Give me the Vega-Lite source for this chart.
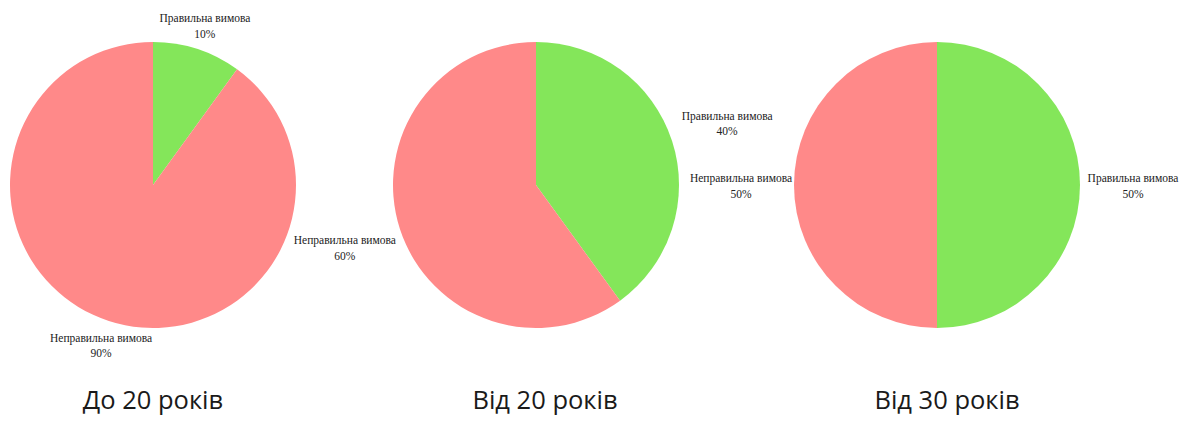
{
  "$schema": "https://vega.github.io/schema/vega-lite/v6.json",
  "background": "white",
  "padding": 0,
  "spacing": 0,
  "bounds": "flush",
  "config": {
    "view": {"stroke": null},
    "title": {"font": "Open Sans", "fontSize": 25.5, "fontWeight": "normal", "color": "#1a1a1a", "orient": "bottom", "offset": 19, "anchor": "middle"}
  },
  "datasets": {
    "d": [
      {"group": "До 20 років", "cat": "Правильна вимова", "value": 10},
      {"group": "До 20 років", "cat": "Неправильна вимова", "value": 90},
      {"group": "Від 20 років", "cat": "Правильна вимова", "value": 40},
      {"group": "Від 20 років", "cat": "Неправильна вимова", "value": 60},
      {"group": "Від 30 років", "cat": "Правильна вимова", "value": 50},
      {"group": "Від 30 років", "cat": "Неправильна вимова", "value": 50}
    ]
  },
  "hconcat": [
    {
      "width": 306, "height": 370,
      "title": {"text": "До 20 років"},
      "data": {"name": "d"},
      "transform": [{"filter": "datum.group == 'До 20 років'"}, {"calculate": "[datum.cat, datum.value + '%']", "as": "label"}],
      "encoding": {
        "theta": {"field": "value", "type": "quantitative", "stack": true},
        "order": {"field": "cat", "sort": "descending"}
      },
      "layer": [
        {"mark": {"type": "arc", "outerRadius": 143}, "encoding": {"color": {"field": "cat", "type": "nominal", "scale": {"domain": ["Правильна вимова", "Неправильна вимова"], "range": ["#84e65a", "#ff8989"]}, "legend": null}}},
        {"mark": {"type": "text", "radius": 168, "dy": -6, "font": "Liberation Serif", "fontSize": 11.5, "lineHeight": 15.5, "color": "#222"}, "encoding": {"text": {"field": "label"}}}
      ]
    },
    {
      "width": 460, "height": 370,
      "title": {"text": "Від 20 років", "dx": 9},
      "data": {"name": "d"},
      "transform": [{"filter": "datum.group == 'Від 20 років'"}, {"calculate": "[datum.cat, datum.value + '%']", "as": "label"}],
      "encoding": {
        "theta": {"field": "value", "type": "quantitative", "stack": true},
        "order": {"field": "cat", "sort": "descending"}
      },
      "layer": [
        {"mark": {"type": "arc", "outerRadius": 143}, "encoding": {"color": {"field": "cat", "type": "nominal", "scale": {"domain": ["Правильна вимова", "Неправильна вимова"], "range": ["#84e65a", "#ff8989"]}, "legend": null}}},
        {"mark": {"type": "text", "radius": 201, "dy": -6, "font": "Liberation Serif", "fontSize": 11.5, "lineHeight": 15.5, "color": "#222"}, "encoding": {"text": {"field": "label"}}}
      ]
    },
    {
      "width": 342, "height": 370,
      "title": {"text": "Від 30 років", "dx": 10},
      "data": {"name": "d"},
      "transform": [{"filter": "datum.group == 'Від 30 років'"}, {"calculate": "[datum.cat, datum.value + '%']", "as": "label"}],
      "encoding": {
        "theta": {"field": "value", "type": "quantitative", "stack": true},
        "order": {"field": "cat", "sort": "descending"}
      },
      "layer": [
        {"mark": {"type": "arc", "outerRadius": 143}, "encoding": {"color": {"field": "cat", "type": "nominal", "scale": {"domain": ["Правильна вимова", "Неправильна вимова"], "range": ["#84e65a", "#ff8989"]}, "legend": null}}},
        {"mark": {"type": "text", "radius": 196, "dy": -6, "font": "Liberation Serif", "fontSize": 11.5, "lineHeight": 15.5, "color": "#222"}, "encoding": {"text": {"field": "label"}}}
      ]
    }
  ]
}
